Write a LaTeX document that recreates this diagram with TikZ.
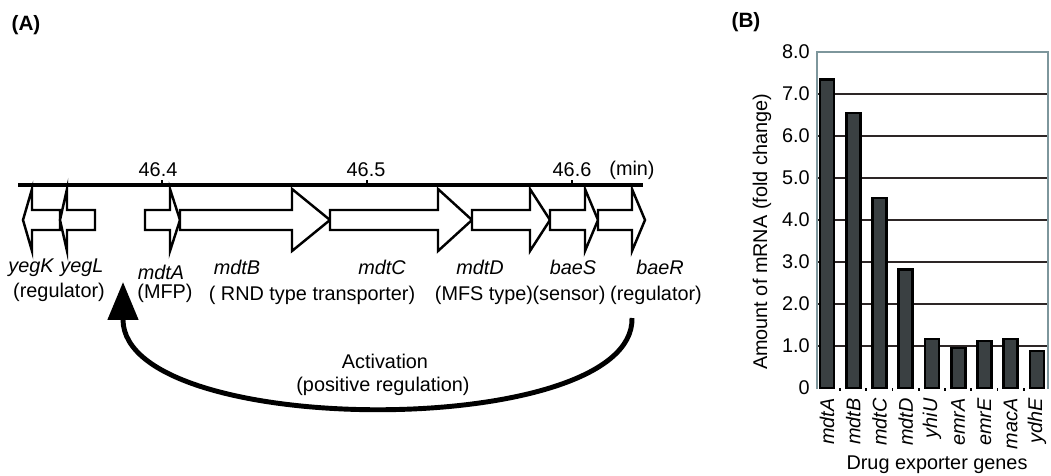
\documentclass[tikz,border=0pt]{standalone}
\usepackage{fontspec}
\setmainfont{Liberation Sans}
\usetikzlibrary{arrows.meta}
\definecolor{framegray}{RGB}{125,150,156}
\definecolor{barfill}{RGB}{58,64,66}
\definecolor{gridline}{RGB}{45,38,38}
\newcommand{\rightgene}[3]{% body start, head base, tip
  \draw[gene] (#1,210) -- (#2,210) -- (#2,189) -- (#3,220) -- (#2,251) -- (#2,230) -- (#1,230) -- cycle;}
\newcommand{\leftgene}[3]{% body end, head base, tip
  \draw[gene] (#1,210) -- (#2,210) -- (#2,189) -- (#3,220) -- (#2,251) -- (#2,230) -- (#1,230) -- cycle;}
\begin{document}
\begin{tikzpicture}[x=0.02cm,y=-0.02cm,
  txt/.style={inner sep=0pt, font=\fontsize{11.3}{13}\selectfont},
  gname/.style={inner sep=0pt, font=\fontsize{11.3}{13}\selectfont\itshape},
  panel/.style={inner sep=0pt, font=\fontsize{11.8}{14}\selectfont\bfseries},
  gene/.style={draw=black, fill=white, line width=1.4pt, line join=miter},
  bar/.style={draw=black, fill=barfill, line width=1.5pt},
  grid line/.style={draw=gridline, line width=0.9pt},
  frame line/.style={draw=framegray, line width=1.6pt}]
\useasboundingbox (0,0) rectangle (1051,476);

% ---------- (A) gene map ----------
\node[panel] (labA) at (26,25) {(A)};

\leftgene{60}{32}{23}
\leftgene{95}{67}{60}
\rightgene{145}{170}{180}
\rightgene{180}{292}{330}
\rightgene{330}{438}{472}
\rightgene{472}{530}{550}
\rightgene{550}{585}{598}
\rightgene{598}{632}{645}

% chromosome line with minute ticks
\draw[line width=2.4pt] (18,185) -- (643,185);
\foreach \tx in {162,367,572} \draw[line width=1.6pt] (\tx,186) -- (\tx,180);
\node[txt] (m464) at (158,170) {46.4};
\node[txt] (m465) at (366,170) {46.5};
\node[txt] (m466) at (572,170) {46.6};
\node[txt] (mmin) at (632,170) {(min)};

% gene names and functions
\node[gname] (yegK) at (31,268) {yegK};
\node[gname] (yegL) at (82,268) {yegL};
\node[txt] (fnyeg) at (59,292) {(regulator)};
\node[gname] (mdtA) at (161,272) {mdtA};
\node[txt] (fnA) at (165,293) {(MFP)};
\node[gname] (mdtB) at (237,267) {mdtB};
\node[gname] (mdtC) at (382,267) {mdtC};
\node[txt] (fnBC) at (312,295) {( RND type transporter)};
\node[gname] (mdtD) at (480,267) {mdtD};
\node[txt] (fnD) at (484,295) {(MFS type)};
\node[gname] (baeS) at (573,267) {baeS};
\node[txt] (fnS) at (569,295) {(sensor)};
\node[gname] (baeR) at (660,267) {baeR};
\node[txt] (fnR) at (656,295) {(regulator)};

% regulatory feedback
\coordinate (actstart) at (632,318);
\coordinate (actbase) at (123,320);
\coordinate (acttip) at (123,282);
\draw[line width=2.8pt, -{Triangle[length=0.76cm, width=0.6cm]}]
  (actstart) .. controls (635,440) and (125,440) .. (actbase) -- (acttip);
\node[txt] (act) at (385,361) {Activation};
\node[txt] (posreg) at (383,386) {(positive regulation)};

% ---------- (B) expression chart ----------
\node[panel] (labB) at (746,22) {(B)};

\foreach \k in {1,...,7} \draw[grid line] (817,{388-42*\k}) -- (1048,{388-42*\k});
\draw[frame line] (817,389) -- (817,52) -- (1048,52) -- (1048,389);

\foreach \k in {1,...,8} \node[txt, anchor=east] (yt\k) at (810,{388-42*\k}) {\k.0};
\node[txt, anchor=east] (yt0) at (810,388) {0};

\foreach \g/\v [count=\i from 0] in {mdtA/7.35,mdtB/6.55,mdtC/4.52,mdtD/2.82,yhiU/1.17,emrA/0.95,emrE/1.12,macA/1.17,ydhE/0.88} {
  \pgfmathsetmacro{\cx}{827+26.25*\i}
  \draw[bar] (\cx-7,388) rectangle (\cx+7,{388-42*\v});
  \node[gname, rotate=90, anchor=east] (xl\i) at (\cx,398) {\g};
}
\foreach \i in {0,...,7} \draw[line width=1pt] ({840+26.25*\i},388) -- ({840+26.25*\i},391);

\node[txt, rotate=90] (ylab) at (762,232) {Amount of mRNA (fold change)};
\node[txt] (xlab) at (937,465) {Drug exporter genes};
\end{tikzpicture}
\end{document}
